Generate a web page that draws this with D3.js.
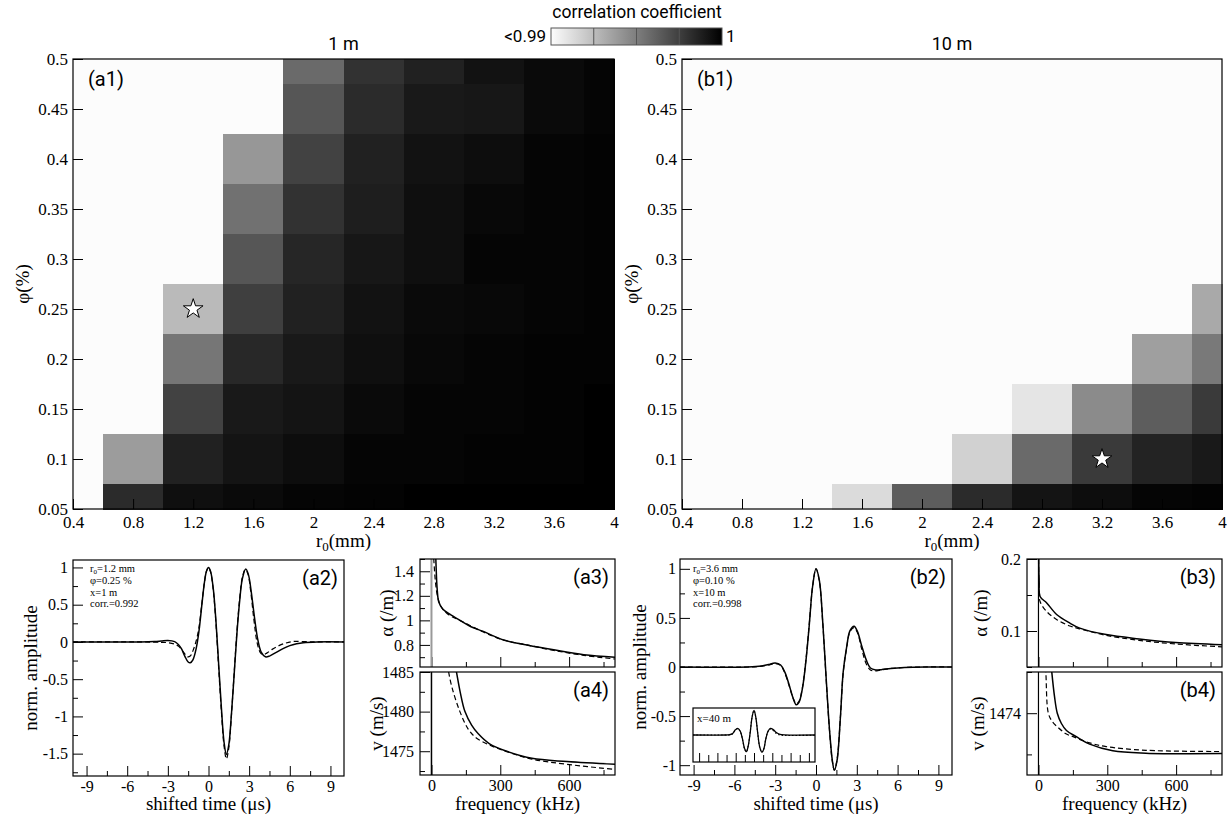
<!DOCTYPE html>
<html><head><meta charset="utf-8">
<script src="https://cdn.jsdelivr.net/npm/d3@7"></script>
<style>body{margin:0;background:#fff}svg{display:block}</style>
</head><body><svg id="c" width="1232" height="820"></svg>
<script>
// ---------------- DATA ----------------
const r0Values = [0.4, 0.8, 1.2, 1.6, 2.0, 2.4, 2.8, 3.2, 3.6, 4.0];
const phiRows = [0.5, 0.45, 0.4, 0.35, 0.3, 0.25, 0.2, 0.15, 0.1, 0.05];
const r0Ticks = [0.4, 0.8, 1.2, 1.6, 2, 2.4, 2.8, 3.2, 3.6, 4];
const phiTicks = [0.05, 0.1, 0.15, 0.2, 0.25, 0.3, 0.35, 0.4, 0.45, 0.5];
const L = 0.98; // below 0.99
// correlation coefficient, rows = phiRows (top to bottom), cols = r0Values
const corr1m = [
  [L, L, L, L, 0.9958, 0.9980, 0.9987, 0.9993, 0.9996, 0.9998],
  [L, L, L, L, 0.9966, 0.9983, 0.9990, 0.9991, 0.9996, 0.9998],
  [L, L, L, 0.9940, 0.9974, 0.9987, 0.9993, 0.9995, 0.9998, 0.9999],
  [L, L, L, 0.9955, 0.9980, 0.9988, 0.9994, 0.9997, 0.9998, 0.9999],
  [L, L, L, 0.9966, 0.9985, 0.9991, 0.9994, 0.9998, 0.9998, 0.9999],
  [L, L, 0.9926, 0.9975, 0.9987, 0.9993, 0.9996, 0.9997, 0.9998, 0.9999],
  [L, L, 0.9953, 0.9984, 0.9990, 0.9994, 0.9997, 0.9998, 0.9999, 0.9999],
  [L, L, 0.9974, 0.9990, 0.9992, 0.9996, 0.9998, 0.9998, 0.9999, 1.0000],
  [L, 0.9938, 0.9987, 0.9992, 0.9995, 0.9998, 0.9998, 0.9999, 0.9999, 1.0000],
  [L, 0.9983, 0.9994, 0.9996, 0.9998, 0.9999, 1.0000, 1.0000, 1.0000, 1.0000]
];
const corr10m = [
  [L, L, L, L, L, L, L, L, L, L],
  [L, L, L, L, L, L, L, L, L, L],
  [L, L, L, L, L, L, L, L, L, L],
  [L, L, L, L, L, L, L, L, L, L],
  [L, L, L, L, L, L, L, L, L, L],
  [L, L, L, L, L, L, L, L, L, 0.9933],
  [L, L, L, L, L, L, L, L, 0.9937, 0.9952],
  [L, L, L, L, L, L, 0.9909, 0.9945, 0.9963, 0.9977],
  [L, L, L, L, L, 0.9917, 0.9958, 0.9977, 0.9986, 0.9990],
  [L, L, L, 0.9913, 0.9963, 0.9983, 0.9992, 0.9995, 0.9998, 0.9999]
];
const best1m = [1.2, 0.25];
const best10m = [3.2, 0.1];

// waveforms: [time (us), normalized amplitude]
const a2Measured = [[-10,0],[-5,0],[-4,0.005],[-3.5,0.012],[-3,0.02],[-2.5,0.005],[-2.2,-0.04],[-2,-0.09],[-1.75,-0.19],[-1.5,-0.27],[-1.35,-0.28],[-1.15,-0.24],[-0.9,-0.08],[-0.7,0.15],[-0.5,0.48],[-0.3,0.8],[-0.15,0.95],[0,1.0],[0.15,0.95],[0.35,0.72],[0.55,0.28],[0.75,-0.3],[0.95,-0.88],[1.15,-1.35],[1.32,-1.51],[1.5,-1.38],[1.7,-0.95],[1.9,-0.42],[2.1,0.12],[2.3,0.55],[2.5,0.85],[2.75,0.98],[2.95,0.9],[3.15,0.68],[3.4,0.32],[3.65,0.02],[3.9,-0.14],[4.2,-0.2],[4.5,-0.19],[5,-0.14],[5.5,-0.09],[6,-0.05],[6.5,-0.025],[7,-0.01],[8,0],[10,0]];
const a2Model = [[-10,0],[-5,0],[-3.5,-0.005],[-3,-0.01],[-2.5,-0.03],[-2.2,-0.06],[-2,-0.1],[-1.75,-0.16],[-1.55,-0.2],[-1.35,-0.19],[-1.15,-0.12],[-0.9,0.02],[-0.7,0.2],[-0.5,0.5],[-0.3,0.8],[-0.15,0.95],[0,1.0],[0.15,0.94],[0.35,0.7],[0.55,0.25],[0.75,-0.35],[0.95,-0.93],[1.15,-1.4],[1.32,-1.57],[1.5,-1.42],[1.7,-0.96],[1.9,-0.4],[2.1,0.15],[2.3,0.58],[2.5,0.87],[2.7,0.97],[2.9,0.92],[3.1,0.7],[3.35,0.3],[3.6,-0.02],[3.85,-0.15],[4.05,-0.17],[4.3,-0.15],[4.7,-0.1],[5.2,-0.05],[5.7,-0.015],[6.2,0.005],[7,0.005],[8,0],[10,0]];
const b2Measured = [[-10,0],[-5,0],[-4,0.01],[-3.5,0.025],[-3,0.04],[-2.6,0.02],[-2.3,-0.05],[-2,-0.17],[-1.7,-0.31],[-1.45,-0.385],[-1.25,-0.36],[-1.0,-0.22],[-0.75,0.05],[-0.5,0.42],[-0.25,0.82],[0,1.0],[0.25,0.88],[0.5,0.45],[0.75,-0.12],[1.0,-0.65],[1.2,-0.95],[1.35,-1.05],[1.55,-0.95],[1.8,-0.5],[2.0,-0.05],[2.25,0.2],[2.5,0.37],[2.8,0.415],[3.05,0.36],[3.35,0.22],[3.7,0.07],[4.0,-0.01],[4.4,-0.03],[4.8,-0.027],[5.5,-0.015],[6.5,-0.005],[8,0],[10,0]];
const b2Model = [[-10,0],[-5,0],[-4,0.008],[-3.5,0.02],[-3,0.035],[-2.6,0.015],[-2.3,-0.06],[-2,-0.18],[-1.7,-0.31],[-1.45,-0.375],[-1.25,-0.35],[-1.0,-0.21],[-0.75,0.06],[-0.5,0.43],[-0.25,0.82],[0,1.0],[0.25,0.87],[0.5,0.44],[0.75,-0.13],[1.0,-0.66],[1.2,-0.96],[1.35,-1.05],[1.55,-0.94],[1.8,-0.5],[2.0,-0.06],[2.25,0.19],[2.5,0.36],[2.8,0.40],[3.05,0.35],[3.35,0.19],[3.7,0.03],[4.0,-0.03],[4.3,-0.04],[4.8,-0.03],[5.5,-0.015],[6.5,-0.005],[8,0],[10,0]];
const insetMeasured = [[-20,0],[-9,0],[-8,0.01],[-7,0.06],[-6.2,0.2],[-5.3,0.27],[-4.5,0.15],[-3.8,-0.15],[-3.1,-0.55],[-2.5,-0.68],[-1.9,-0.45],[-1.2,0.15],[-0.6,0.75],[0,1.0],[0.6,0.72],[1.2,0.1],[1.9,-0.5],[2.6,-0.7],[3.2,-0.58],[3.9,-0.15],[4.6,0.15],[5.4,0.27],[6.3,0.22],[7.3,0.1],[8.5,0.03],[10,0.005],[20,0]];
const insetModel = [[-20,0],[-9,0],[-8,0.005],[-7,0.05],[-6.2,0.18],[-5.3,0.26],[-4.5,0.14],[-3.8,-0.16],[-3.1,-0.56],[-2.5,-0.68],[-1.9,-0.44],[-1.2,0.16],[-0.6,0.75],[0,1.0],[0.6,0.71],[1.2,0.09],[1.9,-0.51],[2.6,-0.7],[3.2,-0.57],[3.9,-0.14],[4.6,0.14],[5.4,0.25],[6.3,0.18],[7.3,0.06],[8.5,0.0],[10,-0.02],[12,-0.02],[20,-0.01]];

// attenuation [frequency (kHz), alpha (/m)]
const a3Measured = [[12,1.9],[19,1.5],[25,1.25],[32,1.15],[50,1.09],[80,1.05],[124,1.0],[170,0.95],[226,0.91],[314,0.84],[416,0.80],[533,0.76],[664,0.72],[800,0.70]];
const a3Model = [[5,1.7],[10,1.5],[18,1.3],[25,1.21],[35,1.14],[50,1.09],[80,1.04],[124,1.0],[226,0.905],[314,0.84],[416,0.80],[533,0.755],[664,0.715],[800,0.685]];
const b3Measured = [[0.5,0.22],[3,0.17],[7,0.148],[36,0.139],[79,0.123],[137,0.111],[180,0.104],[295,0.095],[439,0.089],[597,0.084],[800,0.081]];
const b3Model = [[0.5,0.2],[2,0.16],[7,0.141],[36,0.127],[79,0.116],[137,0.107],[180,0.103],[295,0.094],[439,0.087],[597,0.082],[800,0.078]];
// phase velocity [frequency (kHz), v (m/s)]
const a4Measured = [[95,1487],[107,1485.3],[125,1482.5],[146,1480],[175,1478.3],[204,1477.2],[255,1475.9],[328,1475.0],[438,1474.1],[591,1473.7],[800,1473.35]];
const a4Model = [[65,1487],[73,1485.3],[90,1483],[124,1480],[160,1477.8],[194,1476.7],[255,1475.75],[328,1474.95],[438,1474.0],[591,1473.35],[800,1472.7]];
const b4Measured = [[50,1475.5],[58,1475.0],[70,1474.4],[82,1474.0],[100,1473.75],[122,1473.58],[165,1473.43],[223,1473.25],[324,1473.09],[468,1473.03],[800,1473.02]];
const b4Model = [[25,1475.5],[32,1475.0],[43,1474.0],[60,1473.8],[86,1473.65],[120,1473.5],[151,1473.43],[223,1473.28],[295,1473.19],[468,1473.1],[800,1473.07]];

const colorbarLabels = ["<0.99", "1"];

// ---------------- DRAW ----------------
const SANS = "Roboto, 'Noto Sans', sans-serif";
const SERIF = "'Liberation Serif', 'DejaVu Serif', serif";
const svg = d3.select("#c");
const color = d3.scaleLinear().domain([0.99, 1]).range(["#fcfcfc", "#000000"]).clamp(true);
let clipN = 0;

function stripDomain(a){ a.select(".domain").remove(); a.selectAll(".tick line").attr("stroke","#000"); a.selectAll(".tick text").attr("fill","#000"); }

function heatmap(x0, x1, y0, y1, data, best, tag, title, ylabX){
  const x = d3.scaleLinear().domain([0.4, 4]).range([x0, x1]);
  const y = d3.scaleLinear().domain([0.05, 0.5]).range([y1, y0]);
  const g = svg.append("g");
  const cells = [];
  phiRows.forEach((p, i) => r0Values.forEach((r, j) => cells.push({r, p, v: data[i][j]})));
  g.selectAll("rect.cell").data(cells).join("rect").attr("class","cell")
    .attr("shape-rendering","crispEdges")
    .attr("x", d => x(Math.max(0.4, d.r - 0.2)))
    .attr("width", d => x(Math.min(4, d.r + 0.2)) - x(Math.max(0.4, d.r - 0.2)) + 0.6)
    .attr("y", d => y(Math.min(0.5, d.p + 0.025)))
    .attr("height", d => y(Math.max(0.05, d.p - 0.025)) - y(Math.min(0.5, d.p + 0.025)) + 0.6)
    .attr("fill", d => color(d.v));
  g.append("g").attr("transform", `translate(0,${y1})`)
    .call(d3.axisBottom(x).tickValues(r0Ticks).tickSize(-10).tickPadding(7).tickFormat(d => String(d)))
    .call(stripDomain).attr("font-family", SERIF).attr("font-size", 17);
  g.append("g").attr("transform", `translate(${x0},0)`)
    .call(d3.axisLeft(y).tickValues(phiTicks).tickSize(-10).tickPadding(5).tickFormat(d => String(d)))
    .call(stripDomain).attr("font-family", SERIF).attr("font-size", 17);
  g.append("rect").attr("x", x0).attr("y", y0).attr("width", x1 - x0).attr("height", y1 - y0)
    .attr("fill", "none").attr("stroke", "#000").attr("stroke-width", 1.2);
  g.append("path").attr("transform", `translate(${x(best[0])},${y(best[1])})`)
    .attr("d", d3.symbol(d3.symbolStar).size(120)).attr("fill", "#fff").attr("stroke", "#000").attr("stroke-width", 1);
  g.append("text").attr("x", x0 + 15).attr("y", y0 + 27).attr("font-family", SANS).attr("font-size", 20).text(tag);
  g.append("text").attr("x", (x0 + x1) / 2).attr("y", 50).attr("text-anchor", "middle").attr("font-family", SANS).attr("font-size", 18).text(title);
  const xl = g.append("text").attr("x", (x0 + x1) / 2).attr("y", 547).attr("text-anchor", "middle").attr("font-family", SERIF).attr("font-size", 19);
  xl.append("tspan").text("r");
  xl.append("tspan").attr("font-size", 13).attr("dy", 4).text("0");
  xl.append("tspan").attr("dy", -4).text("(mm)");
  g.append("text").attr("transform", `translate(${ylabX},${(y0 + y1) / 2}) rotate(-90)`).attr("text-anchor", "middle")
    .attr("font-family", SERIF).attr("font-size", 19).text("φ(%)");
}

heatmap(73, 614, 59, 509, corr1m, best1m, "(a1)", "1 m", 29);
heatmap(682, 1222, 59, 509, corr10m, best10m, "(b1)", "10 m", 638);

// colorbar
(function(){
  const cx0 = 551, cx1 = 722, cy0 = 28, cy1 = 45;
  const defs = svg.append("defs");
  const grad = defs.append("linearGradient").attr("id", "cbg");
  const cs = d3.scaleLinear().domain([0, 1]).range([0.99, 1]);
  d3.range(0, 1.0001, 0.1).forEach(t => grad.append("stop").attr("offset", t).attr("stop-color", color(cs(t))));
  const cb = d3.scaleLinear().domain([0.99, 1]).range([cx0, cx1]);
  svg.append("rect").attr("x", cx0).attr("y", cy0).attr("width", cx1 - cx0).attr("height", cy1 - cy0).attr("fill", "url(#cbg)");
  [0.9925, 0.995, 0.9975].forEach(v => svg.append("line").attr("x1", cb(v)).attr("x2", cb(v)).attr("y1", cy0).attr("y2", cy1).attr("stroke", "#555").attr("stroke-width", 1));
  svg.append("rect").attr("x", cx0).attr("y", cy0).attr("width", cx1 - cx0).attr("height", cy1 - cy0).attr("fill", "none").attr("stroke", "#555").attr("stroke-width", 1);
  svg.append("text").attr("x", 637).attr("y", 18).attr("text-anchor", "middle").attr("font-family", SANS).attr("font-size", 17.5).text("correlation coefficient");
  svg.append("text").attr("x", cx0 - 5).attr("y", 42).attr("text-anchor", "end").attr("font-family", SANS).attr("font-size", 17).text(colorbarLabels[0]);
  svg.append("text").attr("x", cx1 + 4).attr("y", 42).attr("font-family", SANS).attr("font-size", 17).text(colorbarLabels[1]);
})();

function linePanel(o){
  const x = d3.scaleLinear().domain(o.xd).range([o.x0, o.x1]);
  const y = d3.scaleLinear().domain(o.yd).range([o.y1, o.y0]);
  const g = svg.append("g");
  const id = "clip" + (clipN++);
  g.append("clipPath").attr("id", id).append("rect").attr("x", o.x0).attr("y", o.y0).attr("width", o.x1 - o.x0).attr("height", o.y1 - o.y0);
  if (o.bg) g.append("rect").attr("x", o.x0).attr("y", o.y0).attr("width", o.x1 - o.x0).attr("height", o.y1 - o.y0).attr("fill", "#fff");
  const fs = o.fs || 16;
  g.append("g").attr("transform", `translate(0,${o.y1})`)
    .call(d3.axisBottom(x).tickValues(o.xMinor).tickSize(-(o.minorLen || 5)).tickFormat(""))
    .call(stripDomain);
  g.append("g").attr("transform", `translate(0,${o.y1})`)
    .call(d3.axisBottom(x).tickValues(o.xMajor).tickSize(-(o.majorLen || 10)).tickPadding(5).tickFormat(o.xLabels ? (d => String(d)) : ""))
    .call(stripDomain).attr("font-family", SERIF).attr("font-size", fs);
  if (o.yMajor){
    g.append("g").attr("transform", `translate(${o.x0},0)`)
      .call(d3.axisLeft(y).tickValues(o.yMinor).tickSize(-5).tickFormat(""))
      .call(stripDomain);
    g.append("g").attr("transform", `translate(${o.x0},0)`)
      .call(d3.axisLeft(y).tickValues(o.yMajor).tickSize(-10).tickPadding(o.yPad || 5).tickFormat(d => String(d)))
      .call(stripDomain).attr("font-family", SERIF).attr("font-size", fs);
  }
  if (o.vline) g.append("line").attr("clip-path", `url(#${id})`)
    .attr("x1", x(0)).attr("x2", x(0)).attr("y1", y(o.yd[0])).attr("y2", y(o.yd[1]))
    .attr("stroke", o.vline.color).attr("stroke-width", o.vline.w);
  const line = d3.line().x(d => x(d[0])).y(d => y(d[1])).curve(d3.curveCatmullRom.alpha(0.5));
  o.series.forEach(s => g.append("path").attr("clip-path", `url(#${id})`).datum(s.data).attr("d", line)
    .attr("fill", "none").attr("stroke", "#000").attr("stroke-width", s.w || 1.5).attr("stroke-dasharray", s.dash || null));
  g.append("rect").attr("x", o.x0).attr("y", o.y0).attr("width", o.x1 - o.x0).attr("height", o.y1 - o.y0)
    .attr("fill", "none").attr("stroke", "#000").attr("stroke-width", 1.2);
  if (o.tag) g.append("text").attr("x", o.x1 - 6).attr("y", o.y0 + 25).attr("text-anchor", "end").attr("font-family", SANS).attr("font-size", 20).text(o.tag);
  if (o.xlabel) g.append("text").attr("x", (o.x0 + o.x1) / 2).attr("y", 810).attr("text-anchor", "middle").attr("font-family", SERIF).attr("font-size", 19).text(o.xlabel);
  if (o.ylabel) g.append("text").attr("x", o.ylabX).attr("y", (o.y0 + o.y1) / 2)
    .attr("transform", `rotate(-90,${o.ylabX},${(o.y0 + o.y1) / 2})`).attr("text-anchor", "middle")
    .attr("font-family", SERIF).attr("font-size", 19).text(o.ylabel);
  return {x, y, g};
}

const timeMajor = [-9, -6, -3, 0, 3, 6, 9];
const timeMinor = [-7.5, -4.5, -1.5, 1.5, 4.5, 7.5];
const freqMajor = [0, 300, 600];
const freqMinor = [150, 450, 750];

function annot(x0, y0, r0, phi, dist, corr){
  const t = svg.append("g").attr("font-family", SERIF).attr("font-size", 10.5);
  const l1 = t.append("text").attr("x", x0).attr("y", y0);
  l1.append("tspan").text("r");
  l1.append("tspan").attr("font-size", 7).attr("dy", 2).text("0");
  l1.append("tspan").attr("dy", -2).text("=" + r0 + " mm");
  t.append("text").attr("x", x0).attr("y", y0 + 12).text("φ=" + phi + " %");
  t.append("text").attr("x", x0).attr("y", y0 + 23.5).text("x=" + dist + " m");
  t.append("text").attr("x", x0).attr("y", y0 + 35).text("corr.=" + corr);
}

linePanel({x0: 73, x1: 344, y0: 560, y1: 776, xd: [-10, 10], yd: [-1.8, 1.1],
  xMajor: timeMajor, xMinor: timeMinor, xLabels: true,
  yMajor: [-1.5, -1, -0.5, 0, 0.5, 1], yMinor: [-1.75, -1.25, -0.75, -0.25, 0.25, 0.75],
  series: [{data: a2Model, dash: "5,3", w: 1.2}, {data: a2Measured, w: 1.5}],
  tag: "(a2)", xlabel: "shifted time (μs)", ylabel: "norm. amplitude", ylabX: 37});
annot(90, 572, "1.2", "0.25", "1", "0.992");

linePanel({x0: 420, x1: 615, y0: 559, y1: 667, xd: [-50, 800], yd: [0.62, 1.5],
  xMajor: freqMajor, xMinor: freqMinor, xLabels: false,
  yMajor: [0.8, 1, 1.2, 1.4], yMinor: [0.7, 0.9, 1.1, 1.3, 1.5], yPad: 6,
  vline: {color: "#999", w: 2},
  series: [{data: a3Model, dash: "5,3", w: 1.2}, {data: a3Measured, w: 1.5}],
  tag: "(a3)", ylabel: "α (/m)", ylabX: 393});
linePanel({x0: 420, x1: 615, y0: 672, y1: 775, xd: [-50, 800], yd: [1472, 1485],
  xMajor: freqMajor, xMinor: freqMinor, xLabels: true,
  yMajor: [1475, 1480, 1485], yMinor: [1472.5, 1477.5, 1482.5], yPad: 6,
  vline: {color: "#000", w: 1.5},
  series: [{data: a4Model, dash: "5,3", w: 1.2}, {data: a4Measured, w: 1.5}],
  tag: "(a4)", xlabel: "frequency (kHz)", ylabel: "v (m/s)", ylabX: 383});

linePanel({x0: 680, x1: 952, y0: 559, y1: 775, xd: [-10, 10], yd: [-1.1, 1.1],
  xMajor: timeMajor, xMinor: timeMinor, xLabels: true,
  yMajor: [-1, -0.5, 0, 0.5, 1], yMinor: [-0.75, -0.25, 0.25, 0.75], yPad: 4,
  series: [{data: b2Model, dash: "5,3", w: 1.2}, {data: b2Measured, w: 1.5}],
  tag: "(b2)", xlabel: "shifted time (μs)", ylabel: "norm. amplitude", ylabX: 646});
annot(693, 572, "3.6", "0.10", "10", "0.998");

// inset x = 40 m
linePanel({x0: 693, x1: 815, y0: 708, y1: 762, xd: [-20, 20], yd: [-1.1, 1.1], bg: true,
  xMajor: [-18, -12, -6, 0, 6, 12, 18], xMinor: [-15, -9, -3, 3, 9, 15], xLabels: false, majorLen: 9, minorLen: 7,
  series: [{data: insetModel, dash: "1.5,2", w: 1.1}, {data: insetMeasured, w: 1.3}]});
svg.append("text").attr("x", 697).attr("y", 722).attr("font-family", SERIF).attr("font-size", 11).text("x=40 m");

linePanel({x0: 1027, x1: 1222, y0: 559, y1: 667, xd: [-50, 800], yd: [0.05, 0.2],
  xMajor: freqMajor, xMinor: freqMinor, xLabels: false,
  yMajor: [0.1, 0.2], yMinor: [0.05, 0.15], yPad: 6,
  vline: {color: "#000", w: 1.2},
  series: [{data: b3Model, dash: "5,3", w: 1.2}, {data: b3Measured, w: 1.5}],
  tag: "(b3)", ylabel: "α (/m)", ylabX: 987});
linePanel({x0: 1027, x1: 1222, y0: 672, y1: 775, xd: [-50, 800], yd: [1472.5, 1475],
  xMajor: freqMajor, xMinor: freqMinor, xLabels: true,
  yMajor: [1474], yMinor: [1473, 1475], yPad: 6,
  vline: {color: "#000", w: 1.2},
  series: [{data: b4Model, dash: "5,3", w: 1.2}, {data: b4Measured, w: 1.5}],
  tag: "(b4)", xlabel: "frequency (kHz)", ylabel: "v (m/s)", ylabX: 984});
</script></body></html>
